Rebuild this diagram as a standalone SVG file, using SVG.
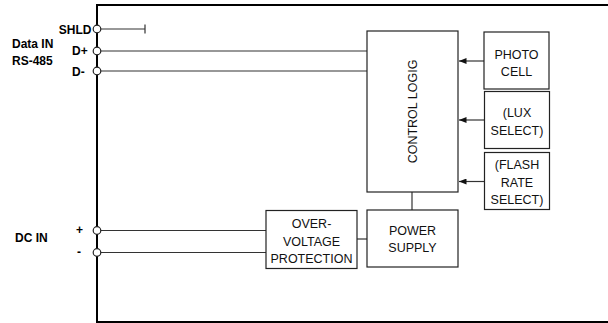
<svg xmlns="http://www.w3.org/2000/svg" width="608" height="323" viewBox="0 0 608 323">
<defs>
<style>
.box{fill:#fff;stroke:#222;stroke-width:1.2}
.wire{fill:none;stroke:#333;stroke-width:1.2}
.frame{fill:none;stroke:#000;stroke-width:2}
.term{fill:#fff;stroke:#222;stroke-width:1.2}
.lbl{font-family:"Liberation Sans",Arial,sans-serif;font-size:12px;font-weight:bold;fill:#000}
.t{font-family:"Liberation Sans",Arial,sans-serif;font-size:12.5px;fill:#111;text-anchor:middle}
</style>
<marker id="arr" viewBox="0 0 10 8" refX="10" refY="4" markerWidth="10" markerHeight="6" markerUnits="userSpaceOnUse" orient="auto">
<path d="M0,0 L10,4 L0,8 z" fill="#111"/>
</marker>
</defs>
<rect width="608" height="323" fill="#fff"/>
<g id="connectors">
<path class="frame" d="M608 5 H97 V322 H608"/>
<path class="wire" d="M97 29 H145 M145 24.5 V33.5"/>
<path class="wire" d="M97 51 H367"/>
<path class="wire" d="M97 71 H367"/>
<path class="wire" d="M97 230.5 H266"/>
<path class="wire" d="M97 252.5 H266"/>
<path class="wire" d="M357 239 H367"/>
<path class="wire" d="M412 192 V210"/>
<path class="wire" d="M484 61 H459" marker-end="url(#arr)"/>
<path class="wire" d="M484 120 H459" marker-end="url(#arr)"/>
<path class="wire" d="M484 181.5 H459" marker-end="url(#arr)"/>
</g>
<g id="terminals">
<circle class="term" cx="97" cy="29" r="3.8"/>
<circle class="term" cx="97" cy="51" r="3.8"/>
<circle class="term" cx="97" cy="71" r="3.8"/>
<circle class="term" cx="97" cy="230.5" r="3.8"/>
<circle class="term" cx="97" cy="252.5" r="3.8"/>
</g>
<g id="labels">
<text class="lbl" x="91.5" y="34" text-anchor="end">SHLD</text>
<text class="lbl" x="12" y="48">Data IN</text>
<text class="lbl" x="12" y="65">RS-485</text>
<text class="lbl" x="72" y="55">D+</text>
<text class="lbl" x="72" y="76">D-</text>
<text class="lbl" x="15" y="242">DC IN</text>
<text class="lbl" x="76" y="234">+</text>
<text class="lbl" x="77" y="256">-</text>
</g>
<g id="control-logic">
<rect class="box" x="367" y="31" width="91" height="161"/>
<text class="t" transform="translate(416.5 111.5) rotate(-90)">CONTROL LOGIG</text>
</g>
<g id="photo-cell">
<rect class="box" x="484" y="32" width="65" height="57"/>
<text class="t" x="516.5" y="58.5">PHOTO</text>
<text class="t" x="516.5" y="75.5">CELL</text>
</g>
<g id="lux-select">
<rect class="box" x="484.5" y="91.5" width="65" height="57"/>
<text class="t" x="517" y="117">(LUX</text>
<text class="t" x="517" y="134.5">SELECT)</text>
</g>
<g id="flash-rate-select">
<rect class="box" x="484.5" y="152.5" width="65" height="57"/>
<text class="t" x="517" y="169">(FLASH</text>
<text class="t" x="517" y="186.5">RATE</text>
<text class="t" x="517" y="204">SELECT)</text>
</g>
<g id="over-voltage-protection">
<rect class="box" x="266" y="210.5" width="91" height="58"/>
<text class="t" x="311.5" y="228">OVER-</text>
<text class="t" x="311.5" y="245.5">VOLTAGE</text>
<text class="t" x="311.5" y="263">PROTECTION</text>
</g>
<g id="power-supply">
<rect class="box" x="367" y="210" width="91" height="57"/>
<text class="t" x="412.5" y="234.5">POWER</text>
<text class="t" x="412.5" y="252">SUPPLY</text>
</g>
</svg>
